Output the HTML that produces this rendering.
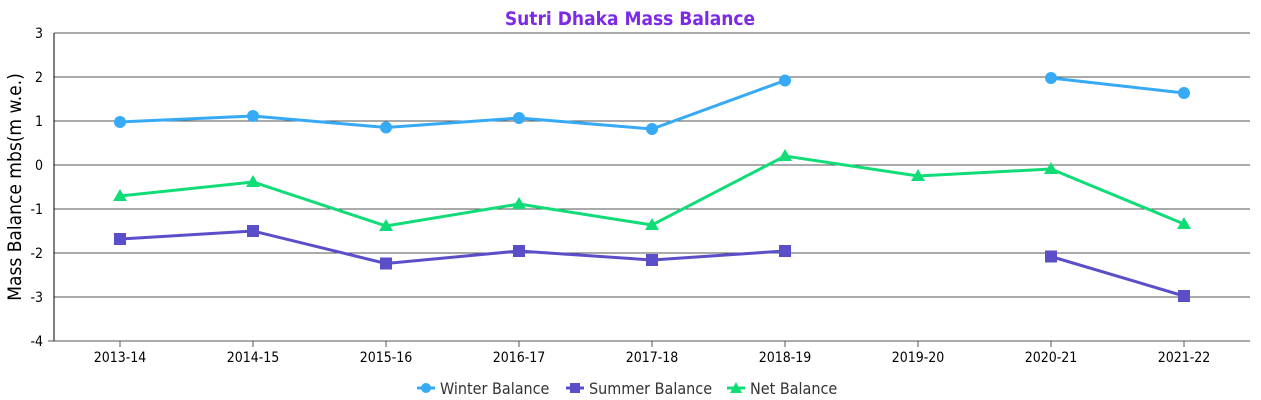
<!DOCTYPE html>
<html><head><style>body{margin:0;background:#fff}svg{display:block}text{font-family:"Liberation Sans Narrow","DejaVu Sans Condensed","Liberation Sans",sans-serif}</style></head>
<body>
<svg width="1261" height="400" xmlns="http://www.w3.org/2000/svg">
<text x="630" y="25" text-anchor="middle" font-size="19" font-weight="bold" fill="#7d2ae8">Sutri Dhaka Mass Balance</text>
<g stroke="#555" stroke-width="1">
<line x1="54" y1="33" x2="1250" y2="33"/><line x1="54" y1="77" x2="1250" y2="77"/><line x1="54" y1="121" x2="1250" y2="121"/><line x1="54" y1="165" x2="1250" y2="165"/><line x1="54" y1="209" x2="1250" y2="209"/><line x1="54" y1="253" x2="1250" y2="253"/><line x1="54" y1="297" x2="1250" y2="297"/><line x1="54" y1="341" x2="1250" y2="341"/>
<line x1="54" y1="33" x2="54" y2="341" stroke="#000"/>
<line x1="48" y1="341" x2="54" y2="341"/>
</g>
<g stroke="#555">
<line x1="120" y1="341" x2="120" y2="347"/><line x1="253" y1="341" x2="253" y2="347"/><line x1="386" y1="341" x2="386" y2="347"/><line x1="519" y1="341" x2="519" y2="347"/><line x1="652" y1="341" x2="652" y2="347"/><line x1="785" y1="341" x2="785" y2="347"/><line x1="918" y1="341" x2="918" y2="347"/><line x1="1051" y1="341" x2="1051" y2="347"/><line x1="1184" y1="341" x2="1184" y2="347"/>
</g>
<g font-size="14" fill="#000" text-anchor="end">
<text x="43" y="38">3</text><text x="43" y="82">2</text><text x="43" y="126">1</text><text x="43" y="170">0</text><text x="43" y="214">-1</text><text x="43" y="258">-2</text><text x="43" y="302">-3</text><text x="43" y="346">-4</text>
</g>
<g font-size="14" fill="#000" text-anchor="middle">
<text x="120" y="362">2013-14</text><text x="253" y="362">2014-15</text><text x="386" y="362">2015-16</text><text x="519" y="362">2016-17</text><text x="652" y="362">2017-18</text><text x="785" y="362">2018-19</text><text x="918" y="362">2019-20</text><text x="1051" y="362">2020-21</text><text x="1184" y="362">2021-22</text>
</g>
<text transform="translate(21,187) rotate(-90)" text-anchor="middle" font-size="19" fill="#000">Mass Balance mbs(m w.e.)</text>
<g fill="none" stroke-width="3">
<polyline stroke="#36aaf5" points="120,122 253,116 386,127.5 519,118 652,129 785,80.5"/>
<polyline stroke="#36aaf5" points="1051,78 1184,93"/>
<polyline stroke="#5a4fc8" points="120,239 253,231 386,263.5 519,251 652,260 785,251"/>
<polyline stroke="#5a4fc8" points="1051,256.5 1184,296"/>
<polyline stroke="#10dc78" points="120,196 253,182 386,226 519,204 652,225 785,156 918,176 1051,169 1184,224"/>
</g>
<g fill="#36aaf5">
<circle cx="120" cy="122" r="6"/><circle cx="253" cy="116" r="6"/><circle cx="386" cy="127.5" r="6"/><circle cx="519" cy="118" r="6"/><circle cx="652" cy="129" r="6"/><circle cx="785" cy="80.5" r="6"/><circle cx="1051" cy="78" r="6"/><circle cx="1184" cy="93" r="6"/>
</g>
<g fill="#5a4fc8">
<rect x="114" y="233" width="12" height="12"/><rect x="247" y="225" width="12" height="12"/><rect x="380" y="257.5" width="12" height="12"/><rect x="513" y="245" width="12" height="12"/><rect x="646" y="254" width="12" height="12"/><rect x="779" y="245" width="12" height="12"/><rect x="1045" y="250.5" width="12" height="12"/><rect x="1178" y="290" width="12" height="12"/>
</g>
<g fill="#10dc78">
<polygon points="120,189 127,201 113,201"/><polygon points="253,175 260,187 246,187"/><polygon points="386,219 393,231 379,231"/><polygon points="519,197 526,209 512,209"/><polygon points="652,218 659,230 645,230"/><polygon points="785,149 792,161 778,161"/><polygon points="918,169 925,181 911,181"/><polygon points="1051,162 1058,174 1044,174"/><polygon points="1184,217 1191,229 1177,229"/>
</g>
<g font-size="16" fill="#333">
<line x1="417" y1="388" x2="435" y2="388" stroke="#36aaf5" stroke-width="3"/><circle cx="426" cy="388" r="5" fill="#36aaf5"/><text x="440" y="394">Winter Balance</text>
<line x1="566" y1="388" x2="584" y2="388" stroke="#5a4fc8" stroke-width="3"/><rect x="570" y="383" width="10" height="10" fill="#5a4fc8"/><text x="589" y="394">Summer Balance</text>
<line x1="727" y1="388" x2="745" y2="388" stroke="#10dc78" stroke-width="3"/><polygon points="736,382 742,393 730,393" fill="#10dc78"/><text x="750" y="394">Net Balance</text>
</g>
</svg>
</body></html>
